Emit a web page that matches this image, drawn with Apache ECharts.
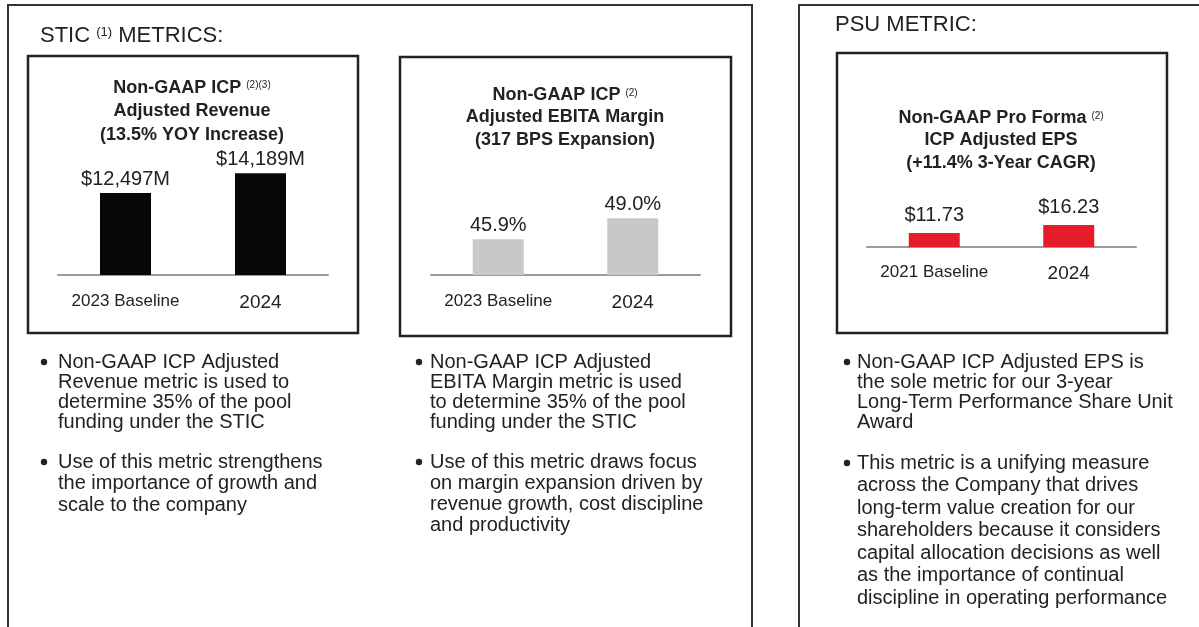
<!DOCTYPE html>
<html>
<head>
<meta charset="utf-8">
<title>STIC / PSU metrics</title>
<script src="https://cdn.jsdelivr.net/npm/echarts@6/dist/echarts.min.js"></script>
<style>
html, body { margin: 0; padding: 0; background: #fff; }
#chart { width: 1199px; height: 627px; }
</style>
</head>
<body>
<div id="chart"></div>
<script>
// 数据
const revenueCats = ['2023 Baseline', '2024']
const revenueVals = [12497, 14189]
const marginCats = ['2023 Baseline', '2024']
const marginVals = [45.9, 49.0]
const epsCats = ['2021 Baseline', '2024']
const epsVals = [11.73, 16.23]

// 标题与说明文字
const revenueTitle = ['Non-GAAP ICP {sup|(2)(3)}', 'Adjusted Revenue', '(13.5% YOY Increase)']
const marginTitle = ['Non-GAAP ICP {sup|(2)}', 'Adjusted EBITA Margin', '(317 BPS Expansion)']
const epsTitle = ['Non-GAAP Pro Forma {sup|(2)}', 'ICP Adjusted EPS', '(+11.4% 3-Year CAGR)']

const revenueNote1 = ['Non-GAAP ICP Adjusted', 'Revenue metric is used to', 'determine 35% of the pool', 'funding under the STIC']
const revenueNote2 = ['Use of this metric strengthens', 'the importance of growth and', 'scale to the company']
const marginNote1 = ['Non-GAAP ICP Adjusted', 'EBITA Margin metric is used', 'to determine 35% of the pool', 'funding under the STIC']
const marginNote2 = ['Use of this metric draws focus', 'on margin expansion driven by', 'revenue growth, cost discipline', 'and productivity']
const epsNote1 = ['Non-GAAP ICP Adjusted EPS is', 'the sole metric for our 3-year', 'Long-Term Performance Share Unit', 'Award']
const epsNote2 = ['This metric is a unifying measure', 'across the Company that drives', 'long-term value creation for our', 'shareholders because it considers', 'capital allocation decisions as well', 'as the importance of continual', 'discipline in operating performance']

const FONT = '"Liberation Sans", Arial, Helvetica, sans-serif'
const INK = '#222'

// 边框
const frame = (x, y, w, h, width, color) => ({
  type: 'rect', silent: true,
  shape: { x, y, width: w, height: h },
  style: { fill: 'none', stroke: color, lineWidth: width }
})

// 多行文字，y 为第一行中心
const textBlock = (x, y, lines, opts) => ({
  type: 'text', silent: true, x, y: y - opts.lh / 2,
  style: {
    text: lines.join('\n'), fill: INK, fontFamily: FONT,
    fontSize: opts.size, fontWeight: opts.weight || 'normal',
    lineHeight: opts.lh, align: opts.align || 'left', verticalAlign: 'top',
    rich: {
      sup: {
        fontSize: opts.supSize || 10, verticalAlign: 'top', padding: [opts.supPad || 4, 0, 0, 0],
        fontFamily: FONT, fontWeight: 'normal', fill: INK
      }
    }
  }
})

const bullet = (dotX, textX, y, lines, lh) => [
  { type: 'circle', silent: true, shape: { cx: dotX, cy: y, r: 3.2 }, style: { fill: INK } },
  textBlock(textX, y, lines, { size: 20, lh })
]

const catAxis = (idx, cats, margin) => ({
  type: 'category', gridIndex: idx, data: cats,
  axisTick: { show: false },
  axisLine: { onZero: false, lineStyle: { color: '#9a9a9a', width: 2 } },
  axisLabel: {
    margin,
    formatter: (v, i) => i === 0 ? '{a|' + v + '}' : '{b|' + v + '}',
    rich: {
      a: { fontSize: 17, fontFamily: FONT, color: INK },
      b: { fontSize: 19, fontFamily: FONT, color: INK }
    }
  }
})

const valAxis = (idx, min, max) => ({ type: 'value', gridIndex: idx, min, max, show: false })

const barSeries = (idx, vals, color, fmt, dist) => ({
  type: 'bar', xAxisIndex: idx, yAxisIndex: idx, data: vals,
  barWidth: 51, silent: true,
  itemStyle: { color },
  label: {
    show: true, position: 'top', distance: dist,
    formatter: p => fmt(p.value),
    fontFamily: FONT, fontSize: 20, color: INK
  }
})

const chart = echarts.init(document.getElementById('chart'))
chart.setOption({
  animation: false,
  grid: [
    { left: 58, width: 270, top: 150, height: 125 },
    { left: 431, width: 269, top: 150, height: 125 },
    { left: 867, width: 269, top: 200, height: 47 }
  ],
  xAxis: [
    catAxis(0, revenueCats, 18),
    catAxis(1, marginCats, 18),
    catAxis(2, epsCats, 17)
  ],
  yAxis: [
    valAxis(0, 5550, 16150),
    valAxis(1, 40.6, 59.1),
    valAxis(2, 3.9, 30.3)
  ],
  series: [
    barSeries(0, revenueVals, '#070707', v => '$' + v.toLocaleString('en-US') + 'M', 4),
    barSeries(1, marginVals, '#c8c8c8', v => v.toFixed(1) + '%', 4),
    barSeries(2, epsVals, '#e61b2c', v => '$' + v.toFixed(2), 8)
  ],
  graphic: {
    elements: [
      frame(8, 5, 744, 700, 2, '#333'),
      frame(799, 5, 440, 700, 2, '#333'),
      frame(28, 56, 330, 277, 2.5, '#222'),
      frame(400, 57, 331, 279, 2.5, '#222'),
      frame(837, 53, 330, 280, 2.5, '#222'),

      textBlock(40, 35.5, ['STIC {sup|(1)} METRICS:'], { size: 22, lh: 26, supSize: 13, supPad: 3 }),
      textBlock(835, 25, ['PSU METRIC:'], { size: 22, lh: 26 }),

      textBlock(192, 88, revenueTitle, { size: 18, lh: 23.5, weight: 'bold', align: 'center' }),
      textBlock(565, 95, marginTitle, { size: 18, lh: 22.5, weight: 'bold', align: 'center' }),
      textBlock(1001, 118, epsTitle, { size: 18, lh: 22.5, weight: 'bold', align: 'center' }),

      ...bullet(44, 58, 362, revenueNote1, 20),
      ...bullet(44, 58, 462, revenueNote2, 21.5),
      ...bullet(419, 430, 362, marginNote1, 20),
      ...bullet(419, 430, 462, marginNote2, 21),
      ...bullet(847, 857, 362, epsNote1, 20),
      ...bullet(847, 857, 463, epsNote2, 22.5)
    ]
  }
})
</script>
</body>
</html>
